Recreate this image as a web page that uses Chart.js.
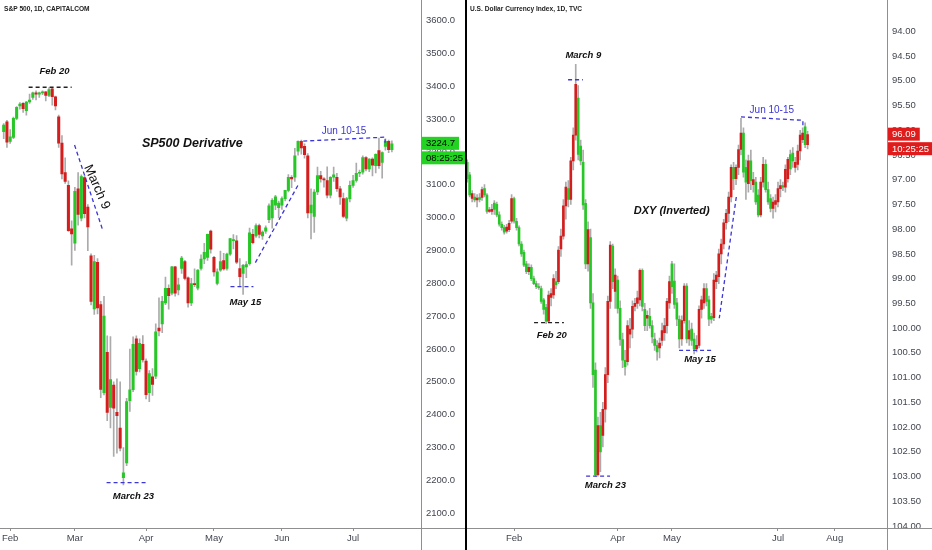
<!DOCTYPE html>
<html>
<head>
<meta charset="utf-8">
<title>SP500 vs DXY (inverted)</title>
<script src="https://cdn.jsdelivr.net/npm/chart.js@4.4.1/dist/chart.umd.min.js"></script>
<style>
  html, body { margin: 0; padding: 0; background: #fff; }
  #wrap { position: relative; width: 932px; height: 550px; overflow: hidden; }
  .pane { position: absolute; top: 0; width: 466px; height: 550px; }
  #left { left: 0; }
  #right { left: 466px; }
  #sep { position: absolute; left: 465px; top: 0; width: 2px; height: 550px; background: #000; }
</style>
</head>
<body>
<div id="wrap">
  <div class="pane" id="left"><canvas id="spx" width="466" height="550"></canvas></div>
  <div class="pane" id="right"><canvas id="dxy" width="466" height="550"></canvas></div>
  <div id="sep"></div>
</div>
<script>
// S&P 500 CFD (CAPITALCOM), daily candles, 30 Jan - 17 Jul 2020 (no Good Friday bar)
const spxOpen = [
  3262, 3292, 3232, 3244, 3302, 3340, 3348, 3326, 3352, 3366,
  3380, 3376, 3380, 3383, 3372, 3392, 3368, 3307, 3227, 3137,
  3098, 2966, 2922, 3088, 2998, 3122, 3032, 2884, 2722, 2864,
  2735, 2467, 2590, 2422, 2490, 2407, 2359, 2208, 2253, 2443,
  2476, 2631, 2540, 2614, 2563, 2467, 2515, 2517, 2664, 2676,
  2740, 2785, 2770, 2850, 2780, 2845, 2866, 2817, 2740, 2799,
  2785, 2845, 2874, 2879, 2959, 2879, 2800, 2840, 2869, 2845,
  2889, 2930, 2929, 2845, 2830, 2850, 2860, 2949, 2944, 2976,
  2944, 2959, 2994, 2999, 3038, 3030, 3038, 3058, 3083, 3123,
  3123, 3202, 3232, 3217, 3188, 3014, 3004, 3078, 3128, 3118,
  3113, 3068, 3123, 3123, 3088, 3058, 2998, 3058, 3098, 3113,
  3135, 3138, 3183, 3148, 3178, 3158, 3204, 3168, 3217, 3232, 3207
];
const spxHigh = [
  3286, 3296, 3268, 3306, 3338, 3350, 3350, 3354, 3376, 3382,
  3386, 3382, 3386, 3384, 3396, 3394, 3370, 3312, 3250, 3182,
  3112, 2990, 3092, 3137, 3130, 3128, 3040, 2890, 2885, 2875,
  2745, 2760, 2640, 2638, 2500, 2509, 2500, 2300, 2450, 2600,
  2637, 2640, 2631, 2641, 2570, 2534, 2540, 2677, 2756, 2760,
  2819, 2795, 2852, 2852, 2816, 2882, 2870, 2820, 2815, 2844,
  2842, 2887, 2922, 2950, 2962, 2882, 2844, 2898, 2891, 2892,
  2936, 2948, 2945, 2875, 2858, 2866, 2968, 2964, 2981, 2980,
  2960, 2975, 3042, 3058, 3068, 3050, 3063, 3083, 3131, 3128,
  3211, 3234, 3236, 3225, 3195, 3088, 3085, 3154, 3141, 3122,
  3155, 3125, 3154, 3135, 3095, 3075, 3062, 3111, 3129, 3166,
  3145, 3188, 3186, 3180, 3182, 3194, 3242, 3200, 3240, 3236, 3234
];
const spxLow = [
  3240, 3214, 3226, 3240, 3298, 3330, 3320, 3312, 3348, 3360,
  3358, 3366, 3374, 3355, 3368, 3342, 3328, 3214, 3118, 3104,
  2958, 2855, 2900, 2977, 2990, 2999, 2899, 2734, 2705, 2707,
  2452, 2460, 2382, 2360, 2273, 2283, 2290, 2186, 2245, 2410,
  2470, 2520, 2530, 2560, 2448, 2440, 2459, 2510, 2640, 2650,
  2735, 2721, 2765, 2761, 2765, 2830, 2810, 2727, 2732, 2790,
  2780, 2840, 2860, 2870, 2892, 2822, 2795, 2836, 2840, 2840,
  2885, 2905, 2860, 2793, 2766, 2817, 2855, 2920, 2940, 2938,
  2934, 2952, 2985, 2968, 3024, 2999, 3025, 3051, 3078, 3091,
  3110, 3190, 3193, 3181, 2999, 2935, 2955, 3070, 3108, 3093,
  3060, 3060, 3110, 3080, 3040, 3000, 2990, 3048, 3092, 3108,
  3125, 3132, 3142, 3140, 3127, 3136, 3150, 3120, 3205, 3198, 3200
];
const spxClose = [
  3282, 3230, 3246, 3302, 3336, 3346, 3332, 3352, 3358, 3380,
  3376, 3380, 3383, 3372, 3390, 3368, 3340, 3227, 3133, 3110,
  2960, 2950, 3080, 3010, 3125, 3012, 2972, 2745, 2866, 2725,
  2477, 2700, 2407, 2507, 2420, 2397, 2298, 2223, 2440, 2476,
  2614, 2532, 2617, 2567, 2461, 2525, 2492, 2652, 2655, 2745,
  2785, 2762, 2850, 2770, 2795, 2877, 2815, 2740, 2799, 2796,
  2840, 2874, 2894, 2949, 2904, 2835, 2835, 2866, 2844, 2889,
  2936, 2932, 2864, 2820, 2855, 2857, 2954, 2924, 2976, 2949,
  2956, 2969, 3036, 3053, 3063, 3044, 3058, 3083, 3123, 3118,
  3188, 3232, 3212, 3192, 3014, 3038, 3078, 3128, 3118, 3115,
  3068, 3123, 3130, 3088, 3063, 3004, 3058, 3098, 3113, 3135,
  3138, 3183, 3148, 3178, 3160, 3193, 3158, 3198, 3232, 3207, 3224.7
];
const spxTicks = [2100, 2200, 2300, 2400, 2500, 2600, 2700, 2800, 2900, 3000, 3100, 3200, 3300, 3400, 3500, 3600];
const spxMonths = ['Feb', 'Mar', 'Apr', 'May', 'Jun', 'Jul'];
const spxMonthAt = [2, 22, 44, 65, 86, 108];   // candle index of each month's first bar

// U.S. Dollar Currency Index (TVC), daily candles, 7 Jan - 17 Jul 2020
const dxyOpen = [
  96.65, 96.90, 97.38, 97.35, 97.41, 97.36, 97.36, 97.18, 97.31, 97.64,
  97.64, 97.47, 97.50, 97.71, 97.90, 97.97, 98.04, 98.01, 97.84, 97.38,
  97.84, 97.97, 98.30, 98.47, 98.70, 98.86, 98.77, 99.00, 99.10, 99.16,
  99.20, 99.43, 99.58, 99.86, 99.38, 99.33, 99.06, 99.06, 98.40, 98.14,
  97.53, 97.18, 97.40, 96.62, 96.10, 95.35, 96.32, 96.65, 97.48, 98.70,
  98.17, 99.49, 100.85, 102.96, 101.97, 102.17, 101.64, 100.94, 99.46, 98.34,
  99.26, 99.03, 99.60, 100.23, 100.65, 100.68, 100.12, 100.02, 99.56, 99.50,
  99.43, 98.83, 99.62, 99.80, 99.76, 99.95, 100.22, 100.35, 100.40, 100.25,
  100.09, 99.95, 99.49, 98.70, 99.05, 99.49, 99.82, 100.22, 99.85, 99.15,
  100.22, 100.02, 100.22, 100.42, 100.35, 99.62, 99.49, 99.20, 99.43, 99.76,
  99.79, 99.06, 98.96, 98.50, 98.30, 97.87, 97.68, 97.35, 96.75, 96.98,
  96.75, 96.39, 96.06, 96.75, 97.08, 96.62, 97.10, 97.05, 97.31, 97.71,
  97.05, 96.69, 97.20, 97.38, 97.58, 97.50, 97.45, 97.18, 97.12, 97.15,
  96.98, 96.49, 96.46, 96.75, 96.69, 96.42, 96.19, 95.93, 96.29
];
const dxyHigh = [
  97.05, 97.35, 97.45, 97.45, 97.55, 97.45, 97.42, 97.35, 97.68, 97.66,
  97.70, 97.70, 97.75, 97.94, 98.02, 98.10, 98.08, 98.05, 97.88, 97.88,
  98.02, 98.34, 98.55, 98.76, 98.90, 98.92, 99.04, 99.12, 99.20, 99.22,
  99.50, 99.72, 99.91, 99.89, 99.55, 99.40, 99.20, 99.10, 98.55, 98.20,
  97.80, 97.55, 97.50, 96.80, 96.20, 96.60, 96.70, 97.60, 98.80, 98.85,
  99.60, 101.20, 102.99, 102.99, 102.90, 102.40, 101.90, 101.10, 99.60, 99.20,
  99.60, 99.70, 100.35, 100.80, 100.95, 100.75, 100.40, 100.20, 99.65, 99.60,
  99.55, 99.65, 100.05, 100.05, 100.00, 100.30, 100.45, 100.65, 100.60, 100.35,
  100.25, 100.10, 99.60, 99.30, 99.60, 99.95, 100.40, 100.35, 99.90, 100.30,
  100.35, 100.35, 100.52, 100.48, 100.40, 99.80, 99.60, 99.55, 99.95, 99.90,
  99.85, 99.20, 99.10, 98.70, 98.40, 98.00, 97.85, 97.45, 97.20, 97.10,
  96.90, 96.50, 96.95, 97.40, 97.25, 97.20, 97.25, 97.50, 97.75, 97.75,
  97.15, 97.25, 97.50, 97.65, 97.78, 97.65, 97.55, 97.35, 97.22, 97.25,
  97.05, 96.90, 96.75, 96.85, 96.80, 96.60, 96.25, 96.35, 96.38
];
const dxyLow = [
  96.60, 96.85, 97.22, 97.28, 97.30, 97.28, 97.15, 97.10, 97.28, 97.56,
  97.50, 97.42, 97.45, 97.65, 97.85, 97.92, 97.90, 97.82, 97.30, 97.35,
  97.78, 97.93, 98.25, 98.42, 98.65, 98.70, 98.72, 98.95, 99.05, 99.10,
  99.15, 99.40, 99.52, 99.25, 99.20, 98.92, 98.85, 98.35, 98.00, 97.40,
  97.05, 97.02, 96.55, 95.95, 94.67, 95.10, 96.20, 96.40, 97.40, 97.85,
  98.00, 99.30, 100.70, 101.80, 101.70, 101.50, 100.80, 99.35, 98.25, 98.30,
  98.80, 98.95, 99.45, 100.10, 100.45, 99.85, 99.80, 99.45, 99.40, 99.25,
  98.80, 98.80, 99.50, 99.65, 99.60, 99.85, 100.10, 100.25, 100.20, 99.90,
  99.80, 99.40, 98.95, 98.65, 98.70, 99.40, 99.75, 99.75, 99.10, 99.10,
  99.85, 99.90, 100.10, 100.15, 99.55, 99.35, 99.10, 99.10, 99.35, 99.70,
  98.90, 98.85, 98.40, 98.20, 97.80, 97.60, 97.25, 96.70, 96.65, 96.70,
  96.30, 95.76, 95.95, 96.60, 96.50, 96.40, 96.85, 96.95, 97.20, 96.95,
  96.55, 96.60, 97.05, 97.30, 97.35, 97.30, 97.05, 97.00, 97.05, 96.70,
  96.55, 96.40, 96.35, 96.55, 96.30, 96.00, 95.95, 95.85, 96.02
];
const dxyClose = [
  96.98, 97.31, 97.28, 97.41, 97.37, 97.40, 97.20, 97.31, 97.64, 97.61,
  97.60, 97.60, 97.71, 97.90, 97.97, 98.06, 97.96, 97.88, 97.38, 97.84,
  97.97, 98.30, 98.50, 98.73, 98.86, 98.77, 99.00, 99.10, 99.16, 99.18,
  99.46, 99.62, 99.86, 99.33, 99.30, 99.00, 99.12, 98.42, 98.14, 97.53,
  97.15, 97.40, 96.62, 96.10, 95.07, 96.49, 96.62, 97.51, 98.70, 98.01,
  99.49, 100.94, 102.96, 101.97, 102.50, 101.64, 100.94, 99.46, 98.32, 99.06,
  98.93, 99.60, 100.23, 100.65, 100.78, 99.95, 100.02, 99.56, 99.50, 99.39,
  98.83, 99.56, 99.95, 99.74, 99.95, 100.18, 100.35, 100.48, 100.30, 100.05,
  99.95, 99.46, 99.06, 99.16, 99.52, 99.82, 100.22, 99.85, 99.15, 100.22,
  100.05, 100.25, 100.42, 100.35, 99.62, 99.43, 99.20, 99.46, 99.82, 99.82,
  99.03, 98.93, 98.50, 98.30, 97.87, 97.68, 97.35, 96.75, 96.98, 96.75,
  96.39, 96.06, 96.85, 97.05, 96.62, 97.02, 97.00, 97.45, 97.71, 97.05,
  96.69, 97.20, 97.45, 97.58, 97.45, 97.42, 97.18, 97.12, 97.15, 96.79,
  96.59, 96.78, 96.62, 96.65, 96.42, 96.10, 96.06, 96.29, 96.09
];
const dxyTicks = [94, 94.5, 95, 95.5, 96, 96.5, 97, 97.5, 98, 98.5, 99, 99.5, 100, 100.5, 101, 101.5, 102, 102.5, 103, 103.5, 104];
const dxyMonths = ['Feb', 'Apr', 'May', 'Jul', 'Aug'];
const dxyMonthAt = [19, 61, 83, 126, 149];

const UP = '#27c727';
const DOWN = '#d41e1e';
const WICK = '#ababab';
const AXIS = '#8f8f8f';
const BLUE = '#3b36d6';
const INK = '#111';
const SANS = '"Liberation Sans", Arial, sans-serif';
const NOTE = 'italic bold 9.5px ' + SANS;

function overlay(cfg) {
  return {
    id: 'overlay',
    afterDraw(chart) {
      const { ctx, chartArea: a, scales } = chart;
      const xs = scales.x, ys = scales.y;
      const W = chart.width, H = chart.height;
      ctx.save();

      // axis lines run to the canvas edges like the trading view frame
      ctx.strokeStyle = AXIS;
      ctx.lineWidth = 1;
      ctx.beginPath();
      ctx.moveTo(a.right + 0.5, 0); ctx.lineTo(a.right + 0.5, H);
      ctx.moveTo(0, a.bottom + 0.5); ctx.lineTo(W, a.bottom + 0.5);
      ctx.stroke();

      // dashed drawings, anchored in data space
      ctx.lineWidth = 1.3;
      ctx.setLineDash([4, 3]);
      cfg.lines.forEach(ln => {
        ctx.strokeStyle = ln.color;
        ctx.beginPath();
        ln.pts.forEach((p, k) => {
          const px = xs.getPixelForValue(p[0]), py = ys.getPixelForValue(p[1]);
          if (k) ctx.lineTo(px, py); else ctx.moveTo(px, py);
        });
        ctx.stroke();
      });
      ctx.setLineDash([]);

      // text notes
      ctx.textAlign = 'center';
      ctx.textBaseline = 'middle';
      cfg.notes.forEach(n => {
        ctx.save();
        ctx.translate(xs.getPixelForValue(n.at[0]), ys.getPixelForValue(n.at[1]));
        if (n.angle) ctx.rotate(n.angle * Math.PI / 180);
        ctx.font = n.font || NOTE;
        ctx.fillStyle = n.color || INK;
        ctx.fillText(n.text, 0, 0);
        ctx.restore();
      });

      // symbol title
      ctx.textAlign = 'left';
      ctx.font = 'bold 6.6px ' + SANS;
      ctx.fillStyle = '#222';
      ctx.fillText(cfg.title, 4, 9);

      // last price tag + bar countdown
      const py = ys.getPixelForValue(cfg.last);
      ctx.font = '9.5px ' + SANS;
      [[cfg.lastText, py - 7], [cfg.timer, py + 7.5]].forEach(([s, top]) => {
        const w = ctx.measureText(s).width + 8;
        ctx.fillStyle = cfg.tagColor;
        ctx.fillRect(a.right + 1, top, w, 13);
        ctx.fillStyle = cfg.tagText;
        ctx.fillText(s, a.right + 5, top + 7);
      });
      ctx.restore();
    }
  };
}

function candleChart(id, open, high, low, close, cfg) {
  const bodies = open.map((o, i) => ({ x: i, y: [o, close[i]] }));
  const wicks = low.map((l, i) => ({ x: i, y: [l, high[i]] }));
  const colors = open.map((o, i) => (close[i] >= o ? UP : DOWN));
  const font = { family: SANS, size: 9.5 };

  return new Chart(document.getElementById(id), {
    type: 'bar',
    data: {
      datasets: [
        { data: bodies, backgroundColor: colors, barThickness: cfg.body, minBarLength: 1, grouped: false, order: 0 },
        { data: wicks, backgroundColor: WICK, barThickness: 1, grouped: false, order: 1 }
      ]
    },
    options: {
      responsive: false,
      animation: false,
      events: [],
      layout: { padding: 0 },
      plugins: { legend: { display: false }, tooltip: { enabled: false } },
      scales: {
        x: {
          type: 'linear', min: cfg.xMin, max: cfg.xMax, offset: false, bounds: 'data',
          grid: { offset: false, drawOnChartArea: false, tickLength: 3, color: AXIS },
          border: { display: false },
          afterBuildTicks: s => { s.ticks = cfg.monthAt.map(v => ({ value: v })); },
          afterFit: s => { s.height = 22; },
          ticks: { autoSkip: false, maxRotation: 0, padding: 2, color: '#434651', font,
                   callback: (v, i) => cfg.months[i] }
        },
        y: {
          position: 'right', min: cfg.yMin, max: cfg.yMax, reverse: !!cfg.reverse, bounds: 'data',
          grid: { display: false, drawTicks: false },
          border: { display: false },
          afterBuildTicks: s => { s.ticks = cfg.yTicks.map(v => ({ value: v })); },
          afterFit: s => { s.width = 45; },
          ticks: { padding: 5, color: '#434651', font, callback: v => v.toFixed(cfg.dec) }
        }
      }
    },
    plugins: [overlay(cfg)]
  });
}

candleChart('spx', spxOpen, spxHigh, spxLow, spxClose, {
  body: 2.4, xMin: -0.93, xMax: 129.0, yMin: 2055, yMax: 3630,
  yTicks: spxTicks, dec: 1, months: spxMonths, monthAt: spxMonthAt,
  title: 'S&P 500, 1D, CAPITALCOM',
  last: spxClose[spxClose.length - 1], lastText: '3224.7', timer: '08:25:25',
  tagColor: '#22d322', tagText: '#000',
  lines: [
    { color: '#222', pts: [[7.7, 3397], [21.0, 3397]] },
    { color: BLUE, pts: [[21.9, 3221], [30.5, 2965]] },
    { color: BLUE, pts: [[92.6, 3233], [117.9, 3245], [117.9, 3228]] },
    { color: BLUE, pts: [[77.8, 2863], [91.0, 3099]] },
    { color: BLUE, pts: [[70.1, 2790], [77.2, 2790]] },
    { color: BLUE, pts: [[31.8, 2193], [44.1, 2193]] }
  ],
  notes: [
    { text: 'Feb 20', at: [15.7, 3445] },
    { text: 'March 9', at: [28.8, 3093], angle: 66, font: '13px ' + SANS },
    { text: 'SP500 Derivative', at: [58.3, 3227], font: 'italic bold 12.5px ' + SANS },
    { text: 'Jun 10-15', at: [105.2, 3263], font: '10px ' + SANS, color: BLUE },
    { text: 'May 15', at: [74.7, 2741] },
    { text: 'March 23', at: [40.1, 2152] }
  ]
});

candleChart('dxy', dxyOpen, dxyHigh, dxyLow, dxyClose, {
  body: 2.0, xMin: -0.49, xMax: 170.2, yMin: 93.584, yMax: 104.04, reverse: true,
  yTicks: dxyTicks, dec: 2, months: dxyMonths, monthAt: dxyMonthAt,
  title: 'U.S. Dollar Currency Index, 1D, TVC',
  last: dxyClose[dxyClose.length - 1], lastText: '96.09', timer: '10:25:25',
  tagColor: '#e01b1b', tagText: '#fff',
  lines: [
    { color: '#222', pts: [[27.1, 99.89], [39.2, 99.89]] },
    { color: BLUE, pts: [[40.9, 94.98], [46.9, 94.98]] },
    { color: BLUE, pts: [[48.2, 102.99], [57.9, 102.99]] },
    { color: BLUE, pts: [[85.9, 100.45], [99.7, 100.45]] },
    { color: BLUE, pts: [[111, 95.73], [136.1, 95.80], [136.1, 95.92]] },
    { color: BLUE, pts: [[109.1, 97.35], [102.2, 99.80]] }
  ],
  notes: [
    { text: 'March 9', at: [47.1, 94.48] },
    { text: 'Feb 20', at: [34.3, 100.15] },
    { text: 'March 23', at: [56.0, 103.17] },
    { text: 'May 15', at: [94.4, 100.63] },
    { text: 'Jun 10-15', at: [123.5, 95.6], font: '10px ' + SANS, color: BLUE },
    { text: 'DXY (Inverted)', at: [82.9, 97.64], font: 'italic bold 11px ' + SANS }
  ]
});
</script>
</body>
</html>
